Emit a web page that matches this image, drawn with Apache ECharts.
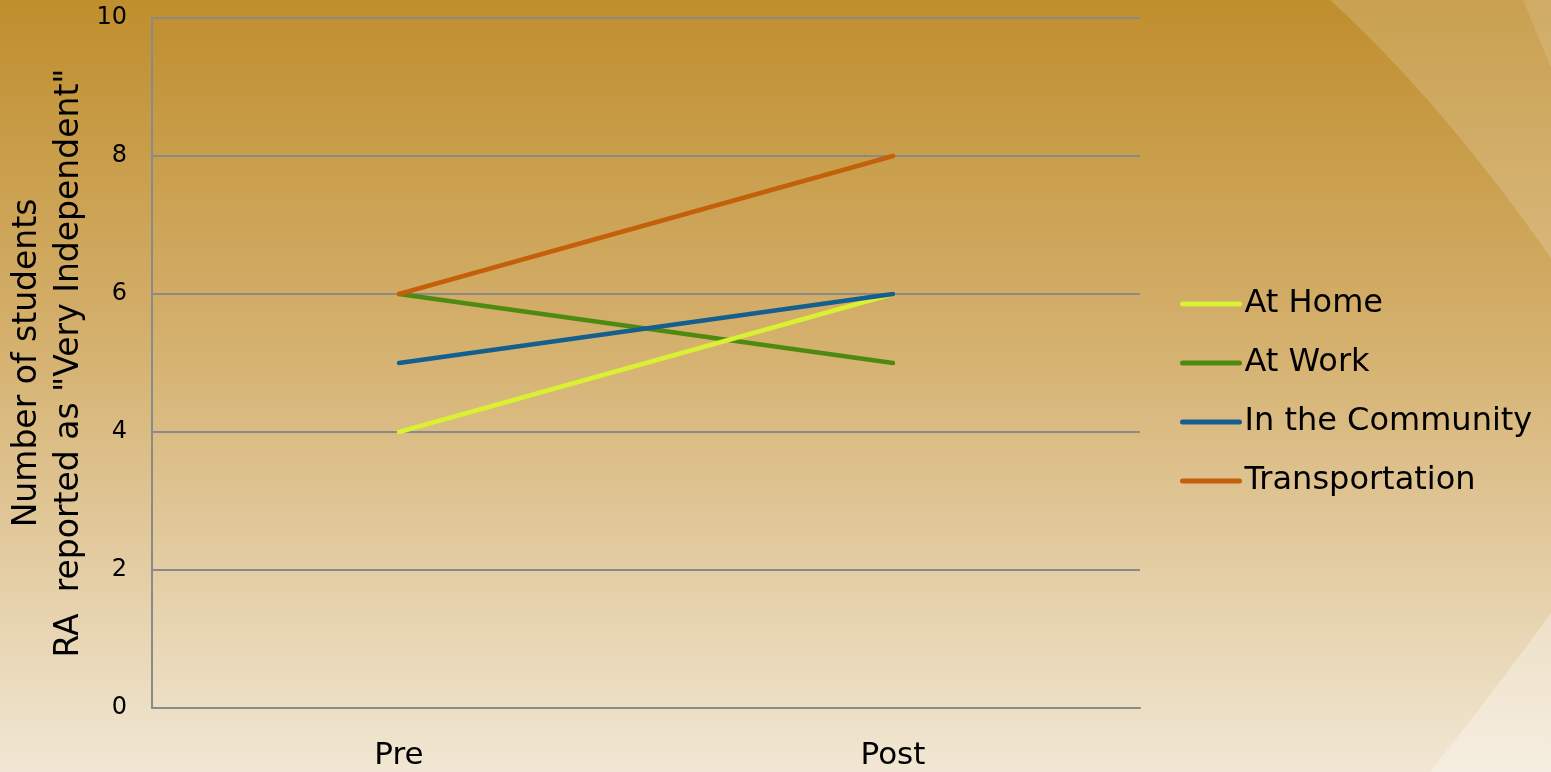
<!DOCTYPE html>
<html>
<head>
<meta charset="utf-8">
<script src="https://cdn.jsdelivr.net/npm/echarts@6/dist/echarts.min.js"></script>
<style>
html,body{margin:0;padding:0;width:1551px;height:772px;overflow:hidden;}
#c{width:1551px;height:772px;}
</style>
</head>
<body>
<div id="c"></div>
<script>
const categories = ['Pre', 'Post'];
const atHome = [4, 6];
const atWork = [6, 5];
const inCommunity = [5, 6];
const transportation = [6, 8];
const seriesNames = ['At Home', 'At Work', 'In the Community', 'Transportation'];
const yTicks = { min: 0, max: 10, interval: 2 };

const colors = {
  'At Home': '#DAF032',
  'At Work': '#4F8A10',
  'In the Community': '#145F8F',
  'Transportation': '#C4600A'
};
const FONT = '"DejaVu Sans", Tahoma, sans-serif';

// decorative background swoosh: quadratic curve p0 -> p2 with control c, closed by extra corner points
function swoosh(p0, c, p2, extra) {
  const pts = [];
  for (let i = 0; i <= 40; i++) {
    const t = i / 40, u = 1 - t;
    pts.push([u * u * p0[0] + 2 * u * t * c[0] + t * t * p2[0],
              u * u * p0[1] + 2 * u * t * c[1] + t * t * p2[1]]);
  }
  return pts.concat(extra);
}

const chart = echarts.init(document.getElementById('c'), null, { renderer: 'canvas' });

function lineSeries(name, data, z) {
  return {
    name: name,
    type: 'line',
    data: data,
    symbol: 'none',
    z: z,
    lineStyle: { color: colors[name], width: 4.5, cap: 'round' },
    itemStyle: { color: colors[name] }
  };
}

chart.setOption({
  backgroundColor: {
    type: 'linear', x: 0, y: 0, x2: 0, y2: 1,
    colorStops: [
      { offset: 0, color: '#BF8E2D' },
      { offset: 0.45, color: '#D5B16F' },
      { offset: 1, color: '#F1E7D4' }
    ]
  },
  graphic: [
    { type: 'polygon', z: -10, silent: true,
      shape: { points: swoosh([1330, 0], [1440, 100], [1551, 258], [[1551, 0]]) },
      style: { fill: 'rgba(255,255,255,0.17)' } },
    { type: 'polygon', z: -9, silent: true,
      shape: { points: swoosh([1523, 0], [1536, 32], [1551, 67], [[1551, 0]]) },
      style: { fill: 'rgba(255,255,255,0.12)' } },
    { type: 'polygon', z: -10, silent: true,
      shape: { points: swoosh([1551, 613], [1495, 690], [1430, 772], [[1551, 772]]) },
      style: { fill: 'rgba(255,255,255,0.3)' } }
  ],
  animation: false,
  grid: { left: 152, right: 411, top: 18, bottom: 64, containLabel: false, outerBoundsMode: 'none' },
  legend: {
    orient: 'vertical',
    left: 1180,
    top: 286,
    padding: 0,
    itemWidth: 57,
    itemHeight: 5,
    itemGap: 23,
    data: seriesNames,
    lineStyle: { width: 5 },
    textStyle: { fontFamily: FONT, fontSize: 32, color: '#000', lineHeight: 36 }
  },
  xAxis: {
    type: 'category',
    data: categories,
    boundaryGap: true,
    axisLine: { show: true, lineStyle: { color: '#8A8A8A', width: 2 } },
    axisTick: { show: false },
    axisLabel: { fontFamily: FONT, fontSize: 31, color: '#000', margin: 32 }
  },
  yAxis: {
    type: 'value',
    min: yTicks.min, max: yTicks.max, interval: yTicks.interval,
    axisLine: { show: true, lineStyle: { color: '#8A8A8A', width: 2 } },
    axisTick: { show: false },
    splitLine: { show: true, lineStyle: { color: '#8A8A8A', width: 2 } },
    axisLabel: { fontFamily: FONT, fontSize: 24, color: '#000', margin: 25 },
    name: 'Number of students\nRA  reported as "Very Independent"',
    nameLocation: 'middle',
    nameRotate: 90,
    nameGap: 62,
    nameMoveOverlap: false,
    nameTextStyle: { fontFamily: FONT, fontSize: 33, color: '#000', lineHeight: 42 }
  },
  series: [
    lineSeries('At Work', atWork, 2),
    lineSeries('At Home', atHome, 3),
    lineSeries('In the Community', inCommunity, 4),
    lineSeries('Transportation', transportation, 5)
  ]
});
</script>
</body>
</html>
